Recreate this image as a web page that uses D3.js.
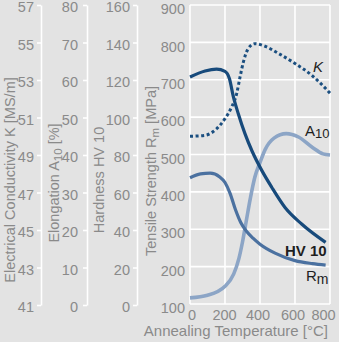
<!DOCTYPE html>
<html><head><meta charset="utf-8">
<script src="https://cdn.jsdelivr.net/npm/d3@7"></script>
<style>
body{margin:0;background:#e3e3e3;}
svg{display:block;}
text{font-family:"Liberation Sans",Arial,sans-serif;}
</style></head>
<body><svg id="c" width="339" height="342"></svg>
<script>
// ---- data ----
const tempTicks = [0,200,400,600,800];
const rmTicks = [100,200,300,400,500,600,700,800,900];
const kTicks = [41,43,45,47,49,51,53,55,57];
const aTicks = [0,10,20,30,40,50,60,70,80];
const hvTicks = [0,20,40,60,80,100,120,140,160];

// Tensile strength Rm [MPa]
const rmT = [0,60,115,170,200,229,260,290,324,360,400,486,600,700,775];
const rmV = [438,448,450,440,425,396,352,318,294,276,260,236,216,208,204];
// Hardness HV 10
const hvT = [0,86,152,200,225,248,276,314,355,410,467,543,638,775];
const hvV = [121.6,124.8,125.8,124.6,120.8,111,102,91.4,82,71.8,62.8,52,43.2,33.4];
// Elongation A10 [%]
const aT = [0,100,200,250,280,300,320,345,370,400,430,480,550,620,700,760,800];
const aV = [1.9,2.6,5.0,8.3,12.5,16.8,22,28.5,34,38,41.5,44.5,45.7,44.8,42,40.3,40];
// Electrical conductivity K [MS/m]
const kT = [0,86,152,200,238,267,286,305,333,371,429,505,600,695,800];
const kV = [50.0,50.05,50.4,50.94,51.56,52.28,53.16,53.96,54.68,54.94,54.8,54.42,53.88,53.26,52.3];

// ---- layout ----
const svg = d3.select("#c");
const yTop=5, yBot=304;
const x = d3.scaleLinear([0,800],[190,330]);
const yRm = d3.scaleLinear([100,900],[yBot,yTop]);
const yK = d3.scaleLinear([41,57],[yBot+1,yTop]);
const yA = d3.scaleLinear([0,80],[yBot+1,yTop]);
const yHV = d3.scaleLinear([0,160],[yBot+1,yTop]);
const grey="#8a8a8a";

// grid
const g = svg.append("g");
g.selectAll("line.h").data(rmTicks).join("line")
  .attr("x1",x(0)).attr("x2",x(800)).attr("y1",d=>yRm(d)).attr("y2",d=>yRm(d))
  .attr("stroke","#fff").attr("stroke-width",1.6);
g.selectAll("line.v").data(tempTicks).join("line")
  .attr("y1",yRm(100)).attr("y2",yRm(900)).attr("x1",d=>x(d)).attr("x2",d=>x(d))
  .attr("stroke","#fff").attr("stroke-width",1.6);

function leftAxis(scale, ticks, xpos, pad){
  const a = svg.append("g").attr("transform",`translate(${xpos},0)`)
    .call(d3.axisLeft(scale).tickValues(ticks).tickSize(4).tickSizeOuter(0).tickPadding(pad));
  a.select(".domain").attr("stroke","#fff").attr("stroke-width",1.6);
  a.selectAll(".tick line").attr("stroke","#fff").attr("stroke-width",1.6);
  a.selectAll(".tick text").attr("fill",grey).attr("font-size",14.5).attr("dy","0.45em");
  return a;
}
leftAxis(yK,kTicks,41,3);
leftAxis(yA,aTicks,87,5);
leftAxis(yHV,hvTicks,137,3);

// main y axis labels
const am = svg.append("g").attr("transform",`translate(190,0)`)
  .call(d3.axisLeft(yRm).tickValues(rmTicks).tickSize(0).tickPadding(5));
am.select(".domain").remove();
am.selectAll(".tick text").attr("fill",grey).attr("font-size",14.5).attr("dy","0.6em");

// x axis labels
const ax = svg.append("g").attr("transform",`translate(0,${yBot})`)
  .call(d3.axisBottom(x).tickValues(tempTicks).tickSize(0).tickPadding(6));
ax.select(".domain").remove();
ax.selectAll(".tick text").attr("fill",grey).attr("font-size",14.5)
  .attr("dx",(d,i)=>[1.5,-1,-2.5,-2.5,-7][i]);

svg.append("text").attr("x",328).attr("y",336).attr("text-anchor","end")
  .attr("fill",grey).attr("font-size",15).text("Annealing Temperature [°C]");

// axis titles
function vtitle(xb, yc, parts){
  const t = svg.append("text").attr("transform",`translate(${xb},${yc}) rotate(-90)`)
    .attr("text-anchor","middle").attr("fill",grey).attr("font-size",14.5);
  parts.forEach(p=>{
    const s = t.append("tspan").text(p[0]);
    if(p[1]) s.attr("font-size",11.5).attr("dy",3);
    else if(p[2]) s.attr("dy",-3);
  });
}
vtitle(15,180,[["Electrical Conductivity K [MS/m]"]]);
vtitle(59,183,[["Elongation A"],["10",1],[" [%]",0,1]]);
vtitle(104,180,[["Hardness HV 10"]]);
vtitle(156,171,[["Tensile Strength R"],["m",1],[" [MPa]",0,1]]);

// curves
const line = (ys)=>d3.line().x(d=>x(d[0])).y(d=>ys(d[1])).curve(d3.curveMonotoneX);
const zip=(a,b)=>a.map((v,i)=>[v,b[i]]);
const cg = svg.append("g").attr("fill","none");
cg.append("path").attr("d",line(yA)(zip(aT,aV))).attr("stroke","#8ca5c6").attr("stroke-width",3.6);
cg.append("path").attr("d",line(yRm)(zip(rmT,rmV))).attr("stroke","#4b71a0").attr("stroke-width",3.2);
cg.append("path").attr("d",line(yHV)(zip(hvT,hvV))).attr("stroke","#174a7b").attr("stroke-width",3.2);
cg.append("path").attr("d",line(yK)(zip(kT,kV))).attr("stroke","#1b4f80").attr("stroke-width",3)
  .attr("stroke-dasharray","3 2.6");

// curve labels
const lab = svg.append("g").attr("fill","#1e1e1e").attr("font-size",15);
lab.append("text").attr("x",313).attr("y",72).attr("font-style","italic").text("K");
const ta = lab.append("text").attr("x",305).attr("y",136);
ta.append("tspan").text("A");
ta.append("tspan").text("10").attr("font-size",13).attr("dy",2);
lab.append("text").attr("x",285).attr("y",256).attr("font-weight","bold").text("HV 10");
const tr = lab.append("text").attr("x",306).attr("y",281);
tr.append("tspan").text("R");
tr.append("tspan").text("m").attr("font-size",14).attr("dy",3);
</script></body></html>
